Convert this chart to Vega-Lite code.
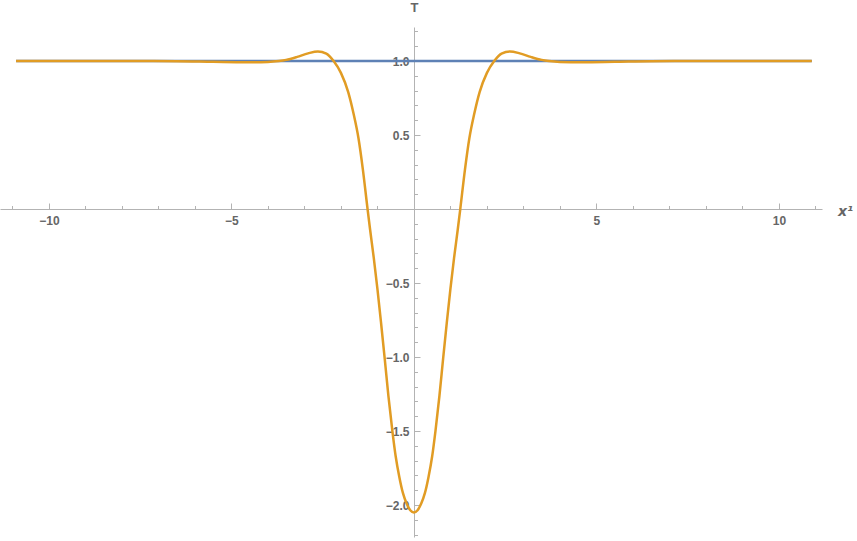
{
  "$schema": "https://vega.github.io/schema/vega-lite/v6.json",
  "width": 822,
  "height": 510,
  "autosize": {"type": "none"},
  "padding": {"left": 0, "top": 27, "right": 35, "bottom": 4},
  "background": "white",
  "config": {"view": {"stroke": null}},
  "data": {
    "values": [
      {"x": -10.9, "T": 1.0, "series": "T0"},
      {"x": 10.9, "T": 1.0, "series": "T0"},
      {"x": -10.9, "T": 1.0, "series": "T1"},
      {"x": -8, "T": 1.0, "series": "T1"},
      {"x": -6.5, "T": 0.999, "series": "T1"},
      {"x": -5.5, "T": 0.995, "series": "T1"},
      {"x": -4.6, "T": 0.992, "series": "T1"},
      {"x": -4.0, "T": 0.994, "series": "T1"},
      {"x": -3.7, "T": 1.0, "series": "T1"},
      {"x": -3.5, "T": 1.008, "series": "T1"},
      {"x": -3.2, "T": 1.028, "series": "T1"},
      {"x": -2.9, "T": 1.052, "series": "T1"},
      {"x": -2.63, "T": 1.065, "series": "T1"},
      {"x": -2.4, "T": 1.05, "series": "T1"},
      {"x": -2.2, "T": 1.0, "series": "T1"},
      {"x": -2.0, "T": 0.92, "series": "T1"},
      {"x": -1.8, "T": 0.79, "series": "T1"},
      {"x": -1.65, "T": 0.64, "series": "T1"},
      {"x": -1.52, "T": 0.48, "series": "T1"},
      {"x": -1.4, "T": 0.27, "series": "T1"},
      {"x": -1.27, "T": 0.0, "series": "T1"},
      {"x": -1.2, "T": -0.14, "series": "T1"},
      {"x": -1.1, "T": -0.33, "series": "T1"},
      {"x": -1.0, "T": -0.54, "series": "T1"},
      {"x": -0.9, "T": -0.77, "series": "T1"},
      {"x": -0.8, "T": -1.01, "series": "T1"},
      {"x": -0.7, "T": -1.26, "series": "T1"},
      {"x": -0.59, "T": -1.5, "series": "T1"},
      {"x": -0.5, "T": -1.67, "series": "T1"},
      {"x": -0.4, "T": -1.81, "series": "T1"},
      {"x": -0.3, "T": -1.92, "series": "T1"},
      {"x": -0.2, "T": -1.99, "series": "T1"},
      {"x": -0.1, "T": -2.035, "series": "T1"},
      {"x": 0, "T": -2.05, "series": "T1"},
      {"x": 0.1, "T": -2.035, "series": "T1"},
      {"x": 0.2, "T": -1.99, "series": "T1"},
      {"x": 0.3, "T": -1.92, "series": "T1"},
      {"x": 0.4, "T": -1.81, "series": "T1"},
      {"x": 0.5, "T": -1.67, "series": "T1"},
      {"x": 0.59, "T": -1.5, "series": "T1"},
      {"x": 0.7, "T": -1.26, "series": "T1"},
      {"x": 0.8, "T": -1.01, "series": "T1"},
      {"x": 0.9, "T": -0.77, "series": "T1"},
      {"x": 1.0, "T": -0.54, "series": "T1"},
      {"x": 1.1, "T": -0.33, "series": "T1"},
      {"x": 1.2, "T": -0.14, "series": "T1"},
      {"x": 1.27, "T": 0.0, "series": "T1"},
      {"x": 1.4, "T": 0.27, "series": "T1"},
      {"x": 1.52, "T": 0.48, "series": "T1"},
      {"x": 1.65, "T": 0.64, "series": "T1"},
      {"x": 1.8, "T": 0.79, "series": "T1"},
      {"x": 2.0, "T": 0.92, "series": "T1"},
      {"x": 2.2, "T": 1.0, "series": "T1"},
      {"x": 2.4, "T": 1.05, "series": "T1"},
      {"x": 2.63, "T": 1.065, "series": "T1"},
      {"x": 2.9, "T": 1.052, "series": "T1"},
      {"x": 3.2, "T": 1.028, "series": "T1"},
      {"x": 3.5, "T": 1.008, "series": "T1"},
      {"x": 3.7, "T": 1.0, "series": "T1"},
      {"x": 4.0, "T": 0.994, "series": "T1"},
      {"x": 4.6, "T": 0.992, "series": "T1"},
      {"x": 5.5, "T": 0.995, "series": "T1"},
      {"x": 6.5, "T": 0.999, "series": "T1"},
      {"x": 8, "T": 1.0, "series": "T1"},
      {"x": 10.9, "T": 1.0, "series": "T1"}
    ]
  },
  "mark": {"type": "line", "interpolate": "monotone", "strokeWidth": 2.5},
  "encoding": {
    "x": {
      "field": "x",
      "type": "quantitative",
      "scale": {"domain": [-11.34, 11.18], "nice": false, "zero": false},
      "axis": {
        "values": [-11, -10, -9, -8, -7, -6, -5, -4, -3, -2, -1, 0, 1, 2, 3, 4, 5, 6, 7, 8, 9, 10, 11],
        "labelExpr": "datum.value % 5 === 0 && datum.value !== 0 ? datum.label : ''",
        "labelOverlap": false,
        "labelFlush": false,
        "offset": -328,
        "grid": false,
        "domainColor": "#b3b3b3",
        "tickColor": "#b3b3b3",
        "tickSize": {"condition": {"test": "datum.value % 5 === 0", "value": -6}, "value": -3.5},
        "labelPadding": 12,
        "labelFont": "Liberation Sans",
        "labelFontSize": 12,
        "labelFontWeight": "bold",
        "labelColor": "#666666",
        "title": "x¹",
        "titleFont": "DejaVu Sans",
        "titleFontStyle": "italic",
        "titleFontWeight": "bold",
        "titleFontSize": 14,
        "titleColor": "#666666",
        "titleX": 845,
        "titleY": 2,
        "titleAlign": "center",
        "titleBaseline": "middle",
        "titleAngle": 0
      }
    },
    "y": {
      "field": "T",
      "type": "quantitative",
      "scale": {"domain": [-2.216, 1.23], "nice": false, "zero": false},
      "axis": {
        "values": [-2.2, -2.1, -2.0, -1.9, -1.8, -1.7, -1.6, -1.5, -1.4, -1.3, -1.2, -1.1, -1.0, -0.9, -0.8, -0.7, -0.6, -0.5, -0.4, -0.3, -0.2, -0.1, 0.1, 0.2, 0.3, 0.4, 0.5, 0.6, 0.7, 0.8, 0.9, 1.0, 1.1, 1.2],
        "labelExpr": "round(datum.value * 10) % 5 === 0 ? format(datum.value, '.1f') : ''",
        "labelOverlap": false,
        "labelFlush": false,
        "offset": -414,
        "grid": false,
        "domainColor": "#b3b3b3",
        "tickColor": "#b3b3b3",
        "tickSize": {"condition": {"test": "round(datum.value * 10) % 5 === 0", "value": -6}, "value": -3.5},
        "labelPadding": 11,
        "labelFont": "Liberation Sans",
        "labelFontSize": 12,
        "labelFontWeight": "bold",
        "labelColor": "#666666",
        "title": "T",
        "titleFont": "Liberation Sans",
        "titleFontWeight": "bold",
        "titleFontSize": 13,
        "titleColor": "#666666",
        "titleX": 0,
        "titleY": -20,
        "titleAngle": 0,
        "titleAlign": "center",
        "titleBaseline": "middle"
      }
    },
    "color": {
      "field": "series",
      "type": "nominal",
      "scale": {"domain": ["T0", "T1"], "range": ["#5E81B5", "#E19C24"]},
      "legend": null
    }
  }
}
